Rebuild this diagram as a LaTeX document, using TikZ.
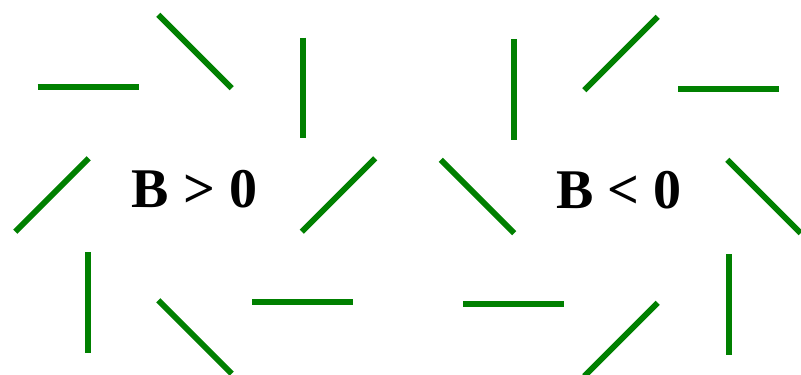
\documentclass[tikz,border=0pt]{standalone}
\usepackage{fontspec}
\setmainfont{Liberation Serif}
\definecolor{segg}{RGB}{0,128,0}
\begin{document}
\begin{tikzpicture}[x=0.75pt,y=-0.75pt,
  seg/.style={draw=segg,line width=4.5pt,line cap=butt},
  lbl/.style={inner sep=0pt,anchor=base,font=\bfseries\fontsize{42}{50}\selectfont}]
\useasboundingbox (0,0) rectangle (801,375);
% left group
\draw[seg] (37.5,87.3) -- (138.5,87.3);
\draw[seg] (158.3,14.8) -- (231.7,88.2);
\draw[seg] (302.7,37.5) -- (302.7,138);
\draw[seg] (88.7,158.3) -- (15.3,231.7);
\draw[seg] (375.2,158.3) -- (301.8,231.7);
\draw[seg] (88,252) -- (88,352.5);
\draw[seg] (158.3,300.3) -- (231.7,373.7);
\draw[seg] (252,302) -- (353,302);
\node[lbl] (bpos) at (194.5,207) {B > 0};
% right group
\draw[seg] (514,39) -- (514,140);
\draw[seg] (657.7,16.8) -- (584.3,90.2);
\draw[seg] (678,89.3) -- (779,89.3);
\draw[seg] (440.8,159.8) -- (514.2,233.2);
\draw[seg] (727.3,159.8) -- (800.7,233.2);
\draw[seg] (728.7,254) -- (728.7,355);
\draw[seg] (463,304) -- (564,304);
\draw[seg] (657.7,302.8) -- (584.3,376.2);
\node[lbl] (bneg) at (619,208) {B < 0};
\end{tikzpicture}
\end{document}
